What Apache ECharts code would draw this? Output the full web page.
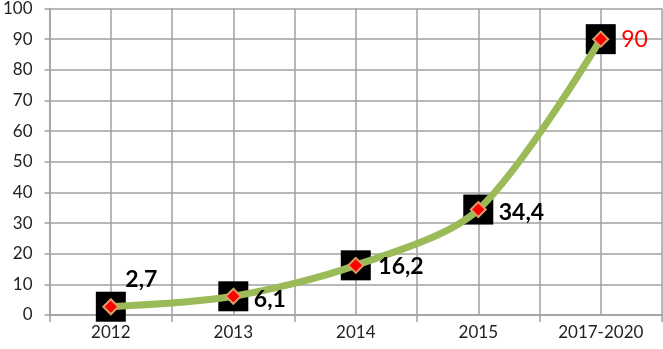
<!DOCTYPE html>
<html>
<head>
<meta charset="utf-8">
<script src="https://cdn.jsdelivr.net/npm/echarts@6/dist/echarts.min.js"></script>
<style>
  html, body { margin: 0; padding: 0; background: #fff; }
  #chart { width: 663px; height: 349px; }
</style>
</head>
<body>
<div id="chart"></div>
<script>
var years = ['2012', '2013', '2014', '2015', '2017-2020'];
var values = [2.7, 6.1, 16.2, 34.4, 90];
var yTicks = { min: 0, max: 100, step: 10 };

var chart = echarts.init(document.getElementById('chart'));

// label placement for each point (offsets like in the picture)
var labelOffsets = [[-6, -27], [0, 3], [2, 1], [0, 3], [0, 0]];
var pointData = values.map(function (v, i) {
  var last = i === values.length - 1;
  return {
    value: v,
    label: {
      show: true,
      position: 'right',
      offset: labelOffsets[i],
      distance: 12,
      color: last ? '#ff0000' : '#000',
      fontWeight: last ? 'normal' : 'bold',
      fontSize: 23,
      fontFamily: 'Lato',
      formatter: function (p) { return String(p.value).replace('.', ','); }
    }
  };
});

var gridColor = '#a0a0a0';

var option = {
  animation: false,
  grid: { left: 48, right: 1, top: 7, bottom: 34 },
  xAxis: [{
    type: 'category',
    data: years,
    boundaryGap: true,
    axisLine: { lineStyle: { color: gridColor, width: 1.5 } },
    axisTick: { show: true, length: 7, lineStyle: { color: gridColor, width: 1.5 } },
    axisLabel: { color: '#222', fontSize: 17, fontFamily: 'Lato', margin: 9 },
    splitLine: { show: true, lineStyle: { color: gridColor, width: 1.5 } }
  }, {
    type: 'category',
    data: years,
    boundaryGap: true,
    position: 'bottom',
    axisLine: { show: false },
    axisTick: { show: false },
    axisLabel: { show: false },
    splitLine: { show: true, alignWithLabel: true, lineStyle: { color: gridColor, width: 1.5 } }
  }],
  yAxis: {
    type: 'value',
    min: yTicks.min,
    max: yTicks.max,
    interval: yTicks.step,
    axisLine: { show: true, lineStyle: { color: gridColor, width: 1.5 } },
    axisTick: { show: true, length: 5, lineStyle: { color: gridColor, width: 1.5 } },
    axisLabel: { color: '#222', fontSize: 17, fontFamily: 'Lato', margin: 17 },
    splitLine: { show: true, lineStyle: { color: gridColor, width: 1.5 } }
  },
  series: [
    {
      // black squares behind the markers
      type: 'scatter',
      data: values,
      symbol: 'rect',
      symbolSize: 30,
      itemStyle: { color: '#000', opacity: 1 },
      z: 1,
      silent: true
    },
    {
      type: 'line',
      data: pointData,
      smooth: 0.3,
      symbol: 'diamond',
      symbolSize: 15,
      showAllSymbol: true,
      lineStyle: { color: '#9bbb59', width: 7 },
      itemStyle: { color: '#ff0000', borderColor: '#d9a066', borderWidth: 2 },
      z: 3
    }
  ]
};

chart.setOption(option);
</script>
</body>
</html>
